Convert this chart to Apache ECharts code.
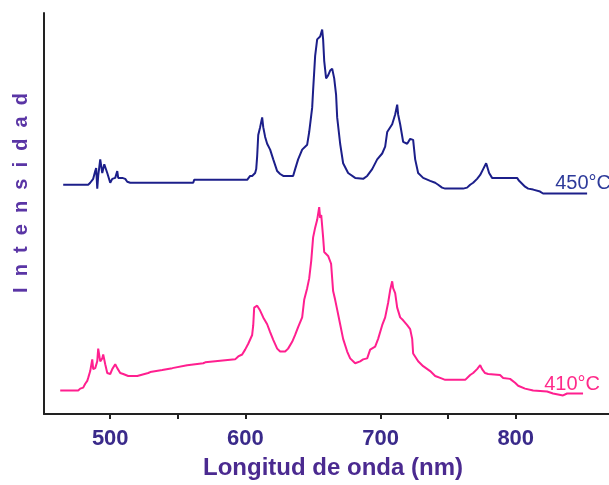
<!DOCTYPE html>
<html>
<head>
<meta charset="utf-8">
<script src="https://cdn.jsdelivr.net/npm/echarts@6/dist/echarts.min.js"></script>
<style>
html,body{margin:0;padding:0;background:#fff;}
#c{width:609px;height:485px;}
</style>
</head>
<body>
<div id="c"></div>
<script>
// Tick labels on the wavelength axis
const xTickLabels = [500, 600, 700, 800];
const xTickMarks = [500, 550, 600, 700, 750, 800];

// 450 °C spectrum (wavelength nm, relative intensity)
const nm450 = [465.2,483.7,485.2,487.4,488.9,489.6,490.4,491.1,492.6,494.1,495.6,497.0,497.8,500.0,501.5,503.7,505.2,505.9,508.9,511.1,512.6,514.8,561.4,562.1,601.3,603.5,605.0,607.2,608.0,608.7,609.5,610.9,612.4,613.2,614.6,616.1,618.3,620.6,623.5,625.7,628.0,635.3,636.8,639.0,642.0,645.7,647.2,649.4,650.1,651.6,653.1,655.3,656.8,657.5,658.3,659.7,661.2,662.7,664.2,665.7,667.1,667.9,670.1,672.3,676.0,681.2,687.1,690.1,693.8,697.5,701.2,703.4,704.9,708.6,710.8,712.3,713.0,714.5,716.7,719.7,721.9,724.1,725.6,727.8,731.5,736.7,740.4,742.6,745.5,747.8,761.1,764.0,766.3,768.5,771.4,773.7,775.9,778.1,778.8,780.3,782.5,801.0,802.5,804.7,806.9,809.2,812.9,818.0,820.2,852.8];
const int450 = [235,235,237,241,249,252,231,244,261,247,256,257,247,237,241,242,249,242,242,241,238,237,237,240,240,244,244,247,251,264,286,294,304,294,284,277,271,261,249,246,244,244,251,261,271,276,289,314,332,367,384,387,394,384,362,344,347,352,354,344,327,304,277,257,247,242,241,244,251,261,267,274,289,297,307,317,307,297,279,277,282,281,261,247,242,239,237,235,232,231,231,232,235,237,241,245,251,257,254,247,242,242,239,236,233,231,230,228,226,226];

// 410 °C spectrum (wavelength nm, relative intensity)
const nm410 = [463.0,476.3,477.8,480.0,481.5,483.0,483.7,485.2,486.7,487.4,488.9,490.4,491.1,492.6,494.1,494.8,496.3,497.8,500.0,501.5,503.7,505.2,507.4,509.6,513.3,520.0,520.7,528.1,529.6,538.5,539.2,545.9,546.6,556.9,557.7,568.8,570.3,577.7,579.1,592.4,594.7,597.6,599.8,602.1,605.0,605.8,606.5,608.7,610.9,613.2,616.1,618.3,620.6,623.5,625.7,629.4,631.6,634.6,636.8,639.0,642.0,643.5,645.7,647.2,648.7,650.1,651.6,653.1,654.6,655.3,656.1,657.5,658.3,661.2,663.4,664.9,666.4,667.9,670.1,672.3,675.3,677.5,681.2,684.9,687.1,690.1,692.3,696.0,698.2,701.2,703.4,705.6,707.1,708.6,709.3,710.8,712.3,714.5,716.7,719.7,721.9,723.4,724.1,727.8,731.5,736.7,740.4,744.1,747.8,762.6,764.0,766.3,768.5,771.4,773.7,775.1,777.3,779.6,788.4,790.7,795.8,799.5,801.8,806.9,812.9,823.2,827.6,835.0,838.0,849.8];
const int410 = [24,24,26,27,31,34,37,44,56,46,47,54,67,54,57,61,51,42,41,46,51,47,42,41,39,39,41,42,43,45,46,47,49,50,51,52,53,54,55,56,59,61,66,72,81,91,109,111,106,99,92,84,76,67,64,64,67,74,81,89,99,117,129,139,157,181,191,199,212,201,204,181,166,162,154,126,117,107,92,77,64,57,52,54,56,57,66,69,77,91,99,114,127,136,129,124,109,99,96,91,87,77,62,54,49,44,39,37,35,35,37,40,42,46,50,46,42,41,40,37,36,32,29,26,24,23,21,19,21,21];

const seriesNames = ['450°C', '410°C'];
const lineColors = ['#1c1f8a', '#ff1f8f'];
const labelColors = ['#2d3a9a', '#ff2a8a'];

function zip(a, b) { return a.map((v, i) => [v, b[i]]); }

const sets = [zip(nm450, int450), zip(nm410, int410)];
const labelOffsets = [[-4, 4], [-11, 5]];

const chart = echarts.init(document.getElementById('c'), null, {renderer: 'canvas'});
chart.setOption({
  animation: false,
  backgroundColor: '#ffffff',
  grid: {left: 44, right: 0, top: 13, bottom: 61},
  xAxis: {
    type: 'value',
    min: 451,
    max: 869,
    name: 'Longitud de onda (nm)',
    nameLocation: 'middle',
    nameGap: 42,
    nameTextStyle: {
      fontFamily: 'Liberation Sans, Arial, sans-serif',
      fontSize: 24, fontWeight: 'bold', color: '#4b2a90',
      padding: [0, 0, 0, 13]
    },
    axisLine: {show: true, onZero: false, lineStyle: {color: '#222', width: 2}},
    axisTick: {show: true, length: 5, lineStyle: {color: '#222', width: 2}, customValues: xTickMarks},
    axisLabel: {
      customValues: xTickLabels,
      margin: 14,
      fontFamily: 'Liberation Sans, Arial, sans-serif',
      fontSize: 22, fontWeight: 'bold', color: '#3a2a8a'
    },
    splitLine: {show: false}
  },
  yAxis: {
    type: 'value',
    min: 0,
    max: 411,
    axisLine: {show: true, lineStyle: {color: '#222', width: 2}},
    axisTick: {show: false},
    axisLabel: {show: false},
    splitLine: {show: false}
  },
  graphic: [{
    type: 'text',
    x: 21, y: 193,
    rotation: Math.PI / 2,
    style: {
      text: 'I  n  t  e  n  s  i  d  a  d',
      fontFamily: 'Liberation Sans, Arial, sans-serif',
      fontSize: 20, fontWeight: 'bold',
      fill: '#5a35a5',
      align: 'center', verticalAlign: 'middle'
    }
  }],
  series: sets.map((d, i) => ({
    type: 'line',
    name: seriesNames[i],
    data: d,
    showSymbol: false,
    symbol: 'none',
    lineStyle: {color: lineColors[i], width: 2},
    markPoint: {
      symbol: 'circle',
      symbolSize: 1,
      itemStyle: {color: 'rgba(0,0,0,0)'},
      label: {
        show: true,
        position: 'top',
        distance: 4,
        offset: labelOffsets[i],
        formatter: seriesNames[i],
        fontFamily: 'Liberation Sans, Arial, sans-serif',
        fontSize: 20,
        color: labelColors[i]
      },
      data: [{coord: d[d.length - 1]}]
    }
  }))
});
</script>
</body>
</html>
